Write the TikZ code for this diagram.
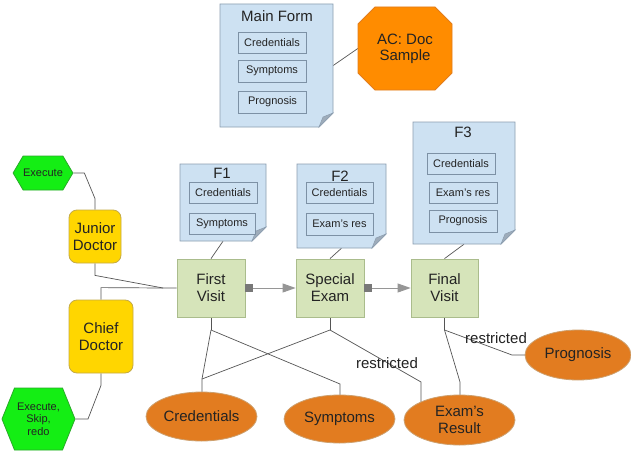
\documentclass[tikz,border=0pt]{standalone}
\usepackage{fontspec}
\setmainfont{Liberation Sans}
\usetikzlibrary{shapes.geometric,shapes.symbols,arrows.meta,backgrounds}
\definecolor{docfill}{RGB}{205,225,242}
\definecolor{docline}{RGB}{140,158,176}
\definecolor{foldc}{RGB}{158,172,186}
\definecolor{iboxline}{RGB}{125,145,165}
\definecolor{visitfill}{RGB}{214,228,186}
\definecolor{visitline}{RGB}{170,188,140}
\definecolor{yelfill}{RGB}{255,214,0}
\definecolor{yelline}{RGB}{196,170,70}
\definecolor{grnfill}{RGB}{20,238,20}
\definecolor{grnline}{RGB}{40,170,40}
\definecolor{octfill}{RGB}{255,140,0}
\definecolor{octline}{RGB}{225,125,30}
\definecolor{ellfill}{RGB}{226,124,32}
\definecolor{ellline}{RGB}{205,160,110}
\definecolor{linec}{RGB}{85,85,85}
\definecolor{flowc}{RGB}{150,150,150}
\definecolor{sqc}{RGB}{120,120,120}
\definecolor{txt}{RGB}{35,35,35}
\newcommand\docshape[5]{%
  \filldraw[docst] (#2,#3) -- (#4,#3) -- (#4,#5-14) -- (#4-14,#5) -- (#2,#5) -- cycle;
  \filldraw[foldst] (#4,#5-14) -- (#4-14,#5) -- (#4-10,#5-10) -- cycle;
  \node[inner sep=0, minimum width={(#4-#2)*1pt}, minimum height={(#5-#3)*1pt}] (#1) at ({(#2+#4)/2},{(#3+#5)/2}) {};
}
\begin{document}
\begin{tikzpicture}[x=1pt,y=-1pt,
  docst/.style={fill=docfill, draw=docline, line width=0.8pt},
  foldst/.style={fill=foldc, draw=docline, line width=0.5pt},
  doctitle/.style={font=\fontsize{15}{17}\selectfont, text=txt, inner sep=0},
  ibox/.style={draw=iboxline, fill=docfill, line width=0.7pt, inner sep=0, minimum width=67pt, minimum height=21pt, font=\fontsize{11}{13}\selectfont, text=txt},
  visit/.style={draw=visitline, fill=visitfill, line width=0.8pt, minimum width=68pt, minimum height=58pt, inner sep=0, align=center, font=\fontsize{15}{17}\selectfont, text=txt},
  actor/.style={draw=yelline, fill=yelfill, line width=0.8pt, rounded corners=8pt, inner sep=0, align=center, font=\fontsize{15}{17}\selectfont, text=txt},
  hexa/.style={signal, signal to=east and west, draw=grnline, fill=grnfill, line width=0.8pt, inner sep=0, align=center, font=\fontsize{11}{12.5}\selectfont, text=txt},
  ell/.style={ellipse, draw=ellline, fill=ellfill, line width=0.8pt, inner sep=0, align=center, font=\fontsize{15}{17}\selectfont, text=txt},
  octst/.style={fill=octfill, draw=octline, line width=0.8pt},
  octtext/.style={inner sep=0, align=center, font=\fontsize{15}{16}\selectfont, text=txt},
  conn/.style={draw=linec, line width=0.7pt},
  flow/.style={draw=flowc, line width=0.9pt},
  lbl/.style={font=\fontsize{15}{17}\selectfont, text=txt, inner sep=0}
]
\useasboundingbox (0,0) rectangle (631,452);

% Main form
\docshape{mf}{220}{4}{333}{127}
\node[doctitle] (mft) at (277,16) {Main Form};
\node[ibox, minimum width=68pt] (mfc) at (272,42.5) {Credentials};
\node[ibox, minimum width=68pt, minimum height=22pt] (mfs) at (272,71) {Symptoms};
\node[ibox, minimum width=68pt, minimum height=22pt] (mfp) at (272.5,102) {Prognosis};

% AC octagon
\filldraw[octst] (358,24) -- (375,7) -- (435,7) -- (452,24) -- (452,73) -- (435,90) -- (375,90) -- (358,73) -- cycle;
\node[octtext, minimum width=94pt, minimum height=83pt] (ac) at (405,48.5) {AC: Doc\\Sample};

% F1
\docshape{fa}{180}{164}{266}{241}
\node[doctitle] (fat) at (222,173) {F1};
\node[ibox, minimum width=68pt] (fac) at (223,192.5) {Credentials};
\node[ibox, minimum width=66pt] (fas) at (222,223.5) {Symptoms};

% F2
\docshape{fb}{297}{164}{386}{248}
\node[doctitle] (fbt) at (340,176) {F2};
\node[ibox] (fbc) at (339.5,192.5) {Credentials};
\node[ibox, minimum height=22pt] (fbe) at (339.5,224) {Exam's res};

% F3
\docshape{fc}{413}{122}{515}{244}
\node[doctitle] (fct) at (463,132) {F3};
\node[ibox, minimum width=68pt] (fcc) at (461,163.5) {Credentials};
\node[ibox, minimum width=68pt] (fce) at (463,192.5) {Exam's res};
\node[ibox, minimum width=68pt, minimum height=22pt] (fcp) at (463,221) {Prognosis};

% Visits
\node[visit] (va) at (211,288) {First\\Visit};
\node[visit] (vb) at (330,288) {Special\\Exam};
\node[visit, minimum width=67pt] (vc) at (444.5,288) {Final\\Visit};

% Actors
\node[actor, minimum width=52pt, minimum height=53pt] (jd) at (95,236.5) {Junior\\Doctor};
\node[actor, minimum width=64pt, minimum height=73pt] (cd) at (101,336.5) {Chief\\Doctor};
\node[hexa, minimum width=58pt, minimum height=34pt, signal pointer angle=119] (ex) at (43,173) {Execute};
\node[hexa, minimum width=73pt, minimum height=62pt, signal pointer angle=136] (esr) at (38.5,419) {Execute,\\Skip,\\redo};

% Ellipses
\node[ell, minimum width=111pt, minimum height=49pt] (ea) at (201.5,416.5) {Credentials};
\node[ell, minimum width=111pt, minimum height=48pt] (eb) at (339.5,419) {Symptoms};
\node[ell, minimum width=111pt, minimum height=50pt] (ec) at (459.5,420) {Exam's\\Result};
\node[ell, minimum width=106pt, minimum height=50pt] (ed) at (578,355) {Prognosis};

% Labels
\node[lbl] (ra) at (387,363) {restricted};
\node[lbl] (rb) at (496,338) {restricted};

% junction coordinates
\coordinate (jn) at (163,288);
\coordinate (ja) at (211,330);
\coordinate (jb) at (330,330);
\coordinate (jc) at (444.5,330);
\coordinate (ka) at (202,379);
\coordinate (kb) at (340,384);
\coordinate (kc) at (421,382);
\coordinate (kd) at (460,382);
\coordinate (ke) at (512,355);
\coordinate (cb) at (88,419);

\begin{scope}[on background layer]
  \fill[white] (0,0) rectangle (631,452);
  \draw[conn] (mf.east) -- (ac.west);
  \draw[conn] (fa.south) -- (va.north);
  \draw[conn] (fb.south) -- (vb.north);
  \draw[conn] (fc.south) -- (vc.north);
  \draw[conn] (ex.east) -- ++(11,0) -- ([yshift=11pt]jd.north) -- (jd.north);
  \draw[conn] (jd.south) -- ++(0,12) -- (jn) -- (va.west);
  \draw[conn] (cd.north) -- ++(0,-12) -- (jn);
  \draw[conn] (cd.south) -- ++(0,12) -- (cb) -- (esr.east);
  \draw[conn] (va.south) -- (ja);
  \draw[conn] (vb.south) -- (jb);
  \draw[conn] (vc.south) -- (jc);
  \draw[conn] (ja) -- (ka) -- (ka |- ea.center);
  \draw[conn] (jb) -- (ka);
  \draw[conn] (ja) -- (kb) -- (kb |- eb.center);
  \draw[conn] (jb) -- (kc) -- (kc |- ec.center);
  \draw[conn] (jc) -- (kd) -- (kd |- ec.center);
  \draw[conn] (jc) -- (ke) -- (ed.center);
\end{scope}

% flows
\draw[flow, {Square[length=7pt,width=8pt,color=sqc]}-{Triangle[length=13pt,width=9pt]}] (va.east) -- (vb.west);
\draw[flow, {Square[length=7pt,width=8pt,color=sqc]}-{Triangle[length=13pt,width=9pt]}] (vb.east) -- (vc.west);
\end{tikzpicture}
\end{document}
